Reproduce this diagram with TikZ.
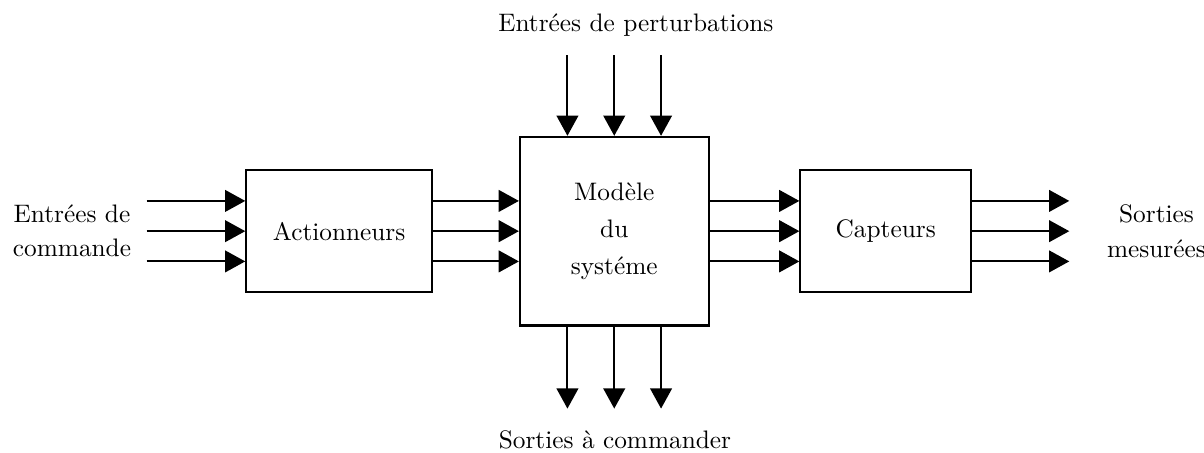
\documentclass[tikz,border=0pt]{standalone}
\usetikzlibrary{positioning,arrows.meta}

\begin{document}
\begin{tikzpicture}[
        blok/.style={draw,thick,align=center},
        flow/.style={thick,-{Triangle[length=2.8mm,width=3mm]}}]
        \useasboundingbox (0,0) rectangle (16.72,-6.28);
        % Blocks
        \node[blok,minimum width=2.58cm,minimum height=1.69cm] (act) at (4.71,-3.21) {Actionneurs};
        \node[blok,minimum width=2.62cm,minimum height=2.62cm] (mod) at (8.53,-3.21)
            {\raisebox{-2.5pt}{\begin{tabular}{@{}c@{}}Modèle\\[2.6pt]du\\[2.6pt]systéme\end{tabular}}};
        \node[blok,minimum width=2.37cm,minimum height=1.69cm] (cap) at (12.30,-3.21) {Capteurs};
        % Labels
        \node[align=center] (cmd) at (1.0,-3.21) {Entrées de\\[1.5pt]commande};
        \node[align=center] (mes) at (16.06,-3.21) {Sorties\\[1.5pt]mesurées};
        \node (pert) at (8.83,-0.35) {Entrées de perturbations};
        \node (sort) at (8.54,-6.11) {Sorties à commander};
        % Free ends
        \coordinate[left=1.37cm of act.west] (in);
        \coordinate[right=1.35cm of cap.east] (out);
        \coordinate[above=1.12cm of mod.north] (top);
        \coordinate[below=1.14cm of mod.south] (bot);
        % Entrees de commande
        \draw[flow] ([yshift=4.2mm]in) -- ([yshift=4.2mm]act.west);
        \draw[flow] (in) -- (act.west);
        \draw[flow] ([yshift=-4.2mm]in) -- ([yshift=-4.2mm]act.west);
        % Actionneurs -> Modele
        \draw[flow] ([yshift=4.2mm]act.east) -- ([yshift=4.2mm]mod.west);
        \draw[flow] (act.east) -- (mod.west);
        \draw[flow] ([yshift=-4.2mm]act.east) -- ([yshift=-4.2mm]mod.west);
        % Modele -> Capteurs
        \draw[flow] ([yshift=4.2mm]mod.east) -- ([yshift=4.2mm]cap.west);
        \draw[flow] (mod.east) -- (cap.west);
        \draw[flow] ([yshift=-4.2mm]mod.east) -- ([yshift=-4.2mm]cap.west);
        % Sorties mesurees
        \draw[flow] ([yshift=4.2mm]cap.east) -- ([yshift=4.2mm]out);
        \draw[flow] (cap.east) -- (out);
        \draw[flow] ([yshift=-4.2mm]cap.east) -- ([yshift=-4.2mm]out);
        % Perturbations
        \draw[flow] ([xshift=-6.5mm]top) -- ([xshift=-6.5mm]mod.north);
        \draw[flow] (top) -- (mod.north);
        \draw[flow] ([xshift=6.5mm]top) -- ([xshift=6.5mm]mod.north);
        % Sorties a commander
        \draw[flow] ([xshift=-6.5mm]mod.south) -- ([xshift=-6.5mm]bot);
        \draw[flow] (mod.south) -- (bot);
        \draw[flow] ([xshift=6.5mm]mod.south) -- ([xshift=6.5mm]bot);
\end{tikzpicture}
\end{document}
